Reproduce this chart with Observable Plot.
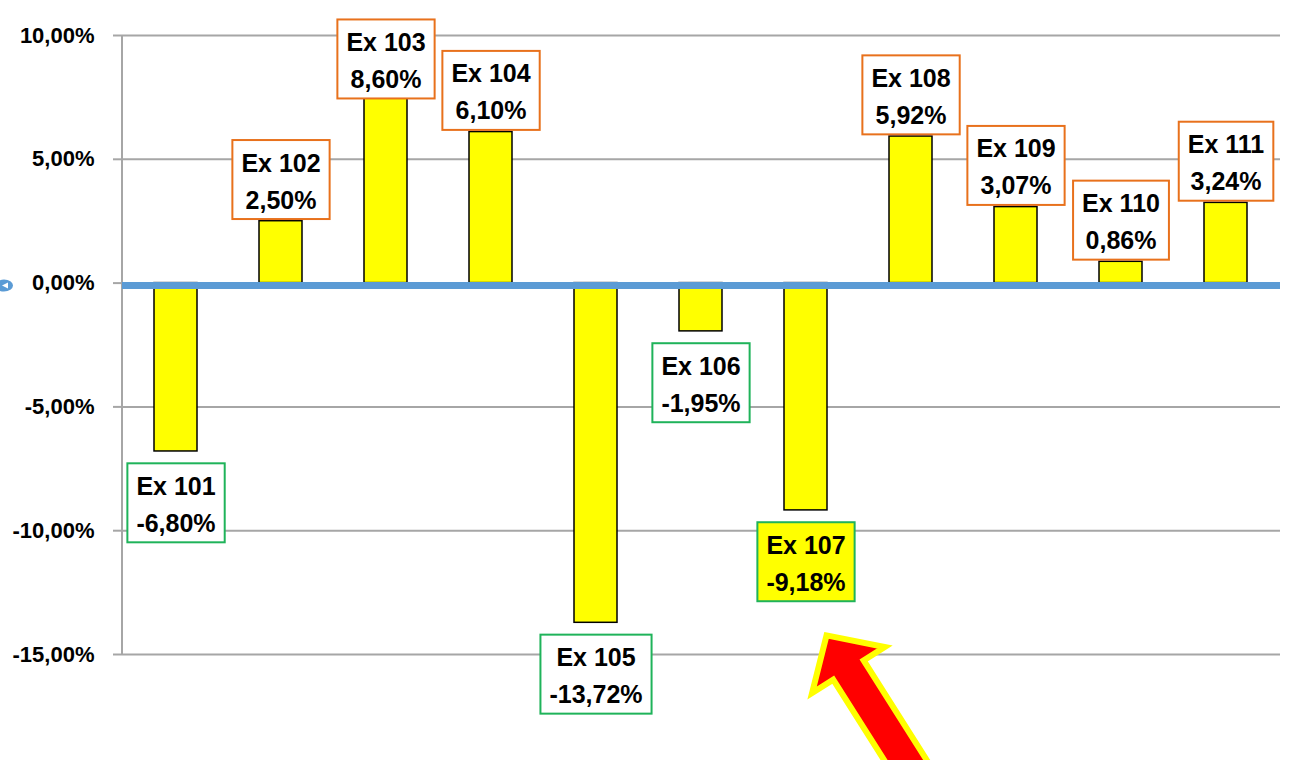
<!DOCTYPE html>
<html>
<head>
<meta charset="utf-8">
<script src="https://cdn.jsdelivr.net/npm/d3@7"></script>
<script src="https://cdn.jsdelivr.net/npm/@observablehq/plot@0.6"></script>
<style>
  html, body { margin: 0; padding: 0; background: #fff; }
  #chart svg { display: block; }
  g[aria-label="y-axis tick label"] text { font-weight: bold; }
</style>
</head>
<body>
<div id="chart"></div>
<script>
// ---- data ----
const names = ["Ex 101", "Ex 102", "Ex 103", "Ex 104", "Ex 105", "Ex 106", "Ex 107", "Ex 108", "Ex 109", "Ex 110", "Ex 111"];
const values = [-6.80, 2.50, 8.60, 6.10, -13.72, -1.95, -9.18, 5.92, 3.07, 0.86, 3.24];
const yTicks = [-15, -10, -5, 0, 5, 10];
const highlight = "Ex 107";

const data = names.map((name, i) => ({name, value: values[i]}));
const fmt = v => v.toFixed(2).replace(".", ",") + "%";
const labelCeiling = 7.37; // highest anchor for a label so the box stays inside the picture

const grid = "#a6a6a6";
const chart = Plot.plot({
  width: 1291,
  height: 760,
  marginLeft: 122,
  marginRight: 11,
  marginTop: 35,
  marginBottom: 106,
  style: {fontFamily: "'Liberation Sans', Arial, sans-serif", background: "#fff"},
  x: {domain: names, paddingInner: 0.59, paddingOuter: 0.295, axis: null},
  y: {domain: [-15, 10]},
  marks: [
    Plot.ruleY(yTicks, {stroke: grid, strokeWidth: 2}),
    Plot.axisY({ticks: yTicks, tickFormat: fmt, tickSize: 9, tickPadding: 19, stroke: grid, strokeWidth: 2,
                fill: "black", fontSize: 22, fontWeight: "bold", label: null}),
    Plot.barY(data, {x: "name", y: "value", fill: "#ffff00", stroke: "black", strokeWidth: 1.5}),
    Plot.ruleY([0], {stroke: "#5b9bd5", strokeWidth: 7, dy: 2.5}),
    Plot.text(data.filter(d => d.value >= 0), {
      x: "name", y: d => Math.min(d.value, labelCeiling), text: d => `${d.name}\n${fmt(d.value)}`,
      dy: -43, lineAnchor: "middle", lineHeight: 1.48, fontSize: 25, fontWeight: "bold", fill: "black"
    }),
    Plot.text(data.filter(d => d.value < 0), {
      x: "name", y: "value", text: d => `${d.name}\n${fmt(d.value)}`,
      dy: 50, lineAnchor: "middle", lineHeight: 1.48, fontSize: 25, fontWeight: "bold", fill: "black"
    })
  ]
});

document.getElementById("chart").appendChild(chart);

const svg = d3.select(chart);
const xs = chart.scale("x");
const ys = chart.scale("y");

// vertical axis line
svg.insert("line", "g[aria-label='bar']")
  .attr("x1", 122).attr("x2", 122)
  .attr("y1", ys.apply(10)).attr("y2", ys.apply(-15))
  .attr("stroke", grid).attr("stroke-width", 2);

// boxes round labels
svg.selectAll("g[aria-label='text'] text").each(function() {
  const t = this;
  const b = t.getBBox();
  const content = t.textContent;
  const negative = content.indexOf("-") >= 0;
  const isHi = content.indexOf(highlight) === 0;
  d3.select(t.parentNode).insert("rect", () => t)
    .attr("transform", t.getAttribute("transform"))
    .attr("x", b.x - 9).attr("width", b.width + 18)
    .attr("y", b.y - 8.5).attr("height", b.height + 14)
    .attr("fill", isHi ? "#ffff00" : "white")
    .attr("stroke", negative ? "#1fb35a" : "#e8711c").attr("stroke-width", 2);
});

// small blue marker at the left end of the zero line
const y0 = ys.apply(0) + 3;
svg.append("ellipse").attr("cx", 4).attr("cy", y0).attr("rx", 9).attr("ry", 6).attr("fill", "#5b9bd5");
svg.append("path").attr("d", `M2,${y0} L8,${y0 - 3} L8,${y0 + 3} Z`).attr("fill", "white");

// red arrow pointing at the highlighted label
const tipX = xs.apply(highlight) + xs.bandwidth / 2 + 21;
const tipY = ys.apply(-14.25);
const dx = 0.535, dy = 0.845, px = 0.845, py = -0.535;
const headLen = 41, headHalf = 43, shaftHalf = 18, tailLen = 190;
const pt = (a, b) => [tipX + a * dx + b * px, tipY + a * dy + b * py];
const pts = [pt(0, 0), pt(headLen, headHalf), pt(headLen, shaftHalf), pt(tailLen, shaftHalf),
             pt(tailLen, -shaftHalf), pt(headLen, -shaftHalf), pt(headLen, -headHalf)];
svg.append("polygon")
  .attr("points", pts.map(p => p.join(",")).join(" "))
  .attr("fill", "#ff0000").attr("stroke", "#ffff00").attr("stroke-width", 6)
  .attr("stroke-linejoin", "miter");
</script>
</body>
</html>
